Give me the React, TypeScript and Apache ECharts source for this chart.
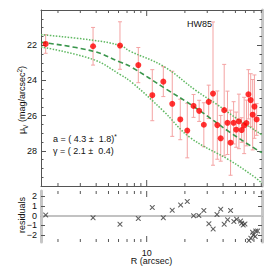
import React, { useEffect, useRef } from "react";
import * as echarts from "echarts";

// Data points (R in arcsec, surface brightness mu_V, error)
const radii = [1.60, 3.78, 6.16, 8.59, 11.07, 13.52, 15.9, 18.39, 20.88, 23.4, 25.9, 28.2, 30.8, 33.3, 36.0, 38.3, 40.8, 43.3, 45.8, 48.4, 50.7, 53.3, 56.0, 58.6, 61.1, 63.3, 66.0, 68.4, 70.6, 73.5];
const mags = [21.93, 22.06, 22.02, 23.13, 24.84, 24.07, 25.33, 26.22, 26.85, 25.45, 25.73, 26.52, 25.22, 24.75, 26.54, 27.29, 25.69, 26.41, 27.54, 26.41, 26.8, 26.33, 26.82, 26.56, 26.42, 24.79, 25.12, 25.95, 25.49, 26.22];
const errs = [0.53, 1.07, 1.35, 1.0, 1.45, 0.85, 1.85, 1.15, 1.55, 0.65, 0.6, 1.25, 0.95, 4.07, 1.94, 1.3, 2.6, 1.8, 1.85, 1.2, 1.0, 1.55, 0.7, 1.6, 1.3, 1.4, 1.5, 2.0, 1.8, 0.9];

// Model fit (dashed) and its bounds (dotted)
const fitR = [1.47, 3.78, 6.16, 7.6, 14.3, 24.8, 45.3, 75.6, 81];
const fitMag = [21.83, 22.34, 22.96, 23.25, 24.5, 25.6, 26.95, 27.99, 28.1];
const upperR = [1.47, 3.78, 6.16, 7.5, 13.5, 24.7, 35.5, 54.3, 75.6, 81];
const upperMag = [21.4, 21.72, 22.02, 22.36, 23.19, 24.6, 25.35, 26.29, 26.95, 27.1];
const lowerR = [1.47, 3.78, 6.16, 7.6, 13.5, 21.9, 45.3, 71.1, 81];
const lowerMag = [22.1, 22.81, 23.66, 24.1, 25.73, 27.24, 28.55, 29.5, 29.85];

// Residuals
const resR = [1.60, 3.78, 6.16, 8.59, 11.07, 13.52, 15.9, 18.5, 20.88, 23.4, 25.75, 28.2, 30.9, 33.4, 35.8, 38.3, 40.8, 43.4, 45.8, 48.6, 51.1, 54.9, 56.0, 57.6, 59.4, 63.9, 66.1, 68.2, 69.1, 71.6, 72.3, 74.8];
const resVal = [0.07, -0.2, -0.88, -0.27, 0.86, -0.2, 0.58, 1.12, 1.47, 0.0, 0.04, 0.55, -0.82, -1.36, 0.14, 0.68, -0.88, -0.41, 0.55, -0.6, -0.37, -0.54, -0.78, -0.95, -0.85, -2.55, -2.31, -1.69, -1.97, -2.14, -1.56, -1.56];

// Axis ticks
const xMinorTicks = [2, 3, 4, 5, 6, 7, 8, 9, 20, 30, 40, 50, 60, 70, 80];
const xMajorTicks = [10];
const resTicks = [-2, -1, 0, 1, 2];

const FONT = "'Liberation Sans', Arial, Helvetica, sans-serif";
const DARK = "#555555";
const LIGHT = "#c6c6c6";

function tickSeries(gridIdx: number, yVal: number) {
  const data = [
    ...xMinorTicks.map((v) => [v, yVal, 3]),
    ...xMajorTicks.map((v) => [v, yVal, 6]),
  ];
  return {
    type: "custom",
    xAxisIndex: gridIdx === 0 ? 0 : 2,
    yAxisIndex: gridIdx === 0 ? 0 : 2,
    silent: true,
    clip: false,
    data,
    renderItem: (params: any, api: any) => {
      const cs = params.coordSys;
      const p = api.coord([api.value(0), api.value(1)]);
      const len = api.value(2);
      const top = cs.y;
      const bot = cs.y + cs.height;
      const st = { stroke: DARK, lineWidth: 1 };
      return {
        type: "group",
        children: [
          { type: "line", shape: { x1: p[0], y1: top, x2: p[0], y2: top + len }, style: st },
          { type: "line", shape: { x1: p[0], y1: bot, x2: p[0], y2: bot - len }, style: st },
        ],
      };
    },
  };
}

export default function App() {
  const ref = useRef<HTMLDivElement>(null);
  useEffect(() => {
    if (!ref.current) return;
    const chart = echarts.init(ref.current, undefined, { renderer: "svg" });
    const xBase = {
      type: "log",
      min: 1.47,
      max: 81,
      axisTick: { show: false },
      splitLine: { show: false },
      minorSplitLine: { show: false },
    };
    const option: any = {
      animation: false,
      backgroundColor: "#ffffff",
      textStyle: { fontFamily: FONT },
      grid: [
        { left: 41, top: 10, width: 221, height: 176 },
        { left: 41, top: 191, width: 221, height: 51 },
      ],
      xAxis: [
        { ...xBase, gridIndex: 0, position: "bottom", axisLine: { lineStyle: { color: DARK, width: 1 } }, axisLabel: { show: false } },
        { ...xBase, gridIndex: 0, position: "top", axisLine: { lineStyle: { color: DARK, width: 1 } }, axisLabel: { show: false } },
        {
          ...xBase,
          gridIndex: 1,
          position: "bottom",
          axisLine: { lineStyle: { color: LIGHT, width: 2 } },
          axisLabel: {
            show: true,
            color: "#111",
            fontSize: 9,
            fontFamily: FONT,
            margin: 6,
            showMinLabel: false,
            showMaxLabel: false,
            formatter: (v: number) => (Math.abs(v - 10) < 1e-6 ? "10" : ""),
          },
        },
        { ...xBase, gridIndex: 1, position: "top", axisLine: { lineStyle: { color: "#999", width: 1 } }, axisLabel: { show: false } },
      ],
      yAxis: [
        {
          type: "value",
          gridIndex: 0,
          position: "left",
          inverse: true,
          min: 20,
          max: 30,
          interval: 2,
          axisLine: { show: true, lineStyle: { color: DARK, width: 1 } },
          axisTick: { show: true, inside: true, length: 5, lineStyle: { color: DARK } },
          minorTick: { show: true, splitNumber: 4, length: 2.5, lineStyle: { color: DARK } },
          splitLine: { show: false },
          minorSplitLine: { show: false },
          axisLabel: {
            color: "#111",
            fontSize: 9,
            fontFamily: FONT,
            margin: 4,
            formatter: (v: number) => (v === 20 || v === 30 ? "" : String(v)),
          },
        },
        {
          type: "value",
          gridIndex: 0,
          position: "right",
          inverse: true,
          min: 20,
          max: 30,
          interval: 2,
          axisLine: { show: true, lineStyle: { color: LIGHT, width: 3 } },
          axisTick: { show: true, inside: true, length: 5, lineStyle: { color: DARK } },
          minorTick: { show: true, splitNumber: 4, length: 2.5, lineStyle: { color: DARK } },
          splitLine: { show: false },
          axisLabel: { show: false },
        },
        {
          type: "value",
          gridIndex: 1,
          position: "left",
          min: -2.7,
          max: 2.55,
          axisLine: { show: true, lineStyle: { color: LIGHT, width: 3 } },
          axisTick: { show: true, inside: true, length: 4, customValues: resTicks, lineStyle: { color: DARK } },
          splitLine: { show: false },
          axisLabel: {
            color: "#111",
            fontSize: 9,
            fontFamily: FONT,
            margin: 4,
            customValues: resTicks,
            formatter: (v: number) => (v < 0 ? "\u2212" + Math.abs(v) : String(v)),
          },
        },
        {
          type: "value",
          gridIndex: 1,
          position: "right",
          min: -2.7,
          max: 2.55,
          axisLine: { show: true, lineStyle: { color: LIGHT, width: 3 } },
          axisTick: { show: true, inside: true, length: 4, customValues: resTicks, lineStyle: { color: DARK } },
          splitLine: { show: false },
          axisLabel: { show: false },
        },
      ],
      series: [
        tickSeries(0, 25),
        tickSeries(1, 0),
        {
          type: "line",
          xAxisIndex: 0,
          yAxisIndex: 0,
          data: upperR.map((r, i) => [r, upperMag[i]]),
          smooth: 0.4,
          showSymbol: false,
          silent: true,
          lineStyle: { color: "#5fb861", width: 1.5, type: [1.5, 1.5] },
        },
        {
          type: "line",
          xAxisIndex: 0,
          yAxisIndex: 0,
          data: lowerR.map((r, i) => [r, lowerMag[i]]),
          smooth: 0.4,
          showSymbol: false,
          silent: true,
          lineStyle: { color: "#5fb861", width: 1.5, type: [1.5, 1.5] },
        },
        {
          type: "line",
          xAxisIndex: 0,
          yAxisIndex: 0,
          data: fitR.map((r, i) => [r, fitMag[i]]),
          smooth: 0.4,
          showSymbol: false,
          silent: true,
          lineStyle: { color: "#3a964c", width: 1.6, type: [5, 3] },
        },
        {
          type: "custom",
          xAxisIndex: 0,
          yAxisIndex: 0,
          clip: true,
          silent: true,
          data: radii.map((r, i) => [r, mags[i], errs[i]]),
          renderItem: (params: any, api: any) => {
            const x = api.value(0);
            const y = api.value(1);
            const e = api.value(2);
            const a = api.coord([x, y - e]);
            const b = api.coord([x, y + e]);
            const st = { stroke: "#f4a3a3", lineWidth: 1 };
            return {
              type: "group",
              children: [
                { type: "line", shape: { x1: a[0], y1: a[1], x2: b[0], y2: b[1] }, style: st },
                { type: "line", shape: { x1: a[0] - 2, y1: a[1], x2: a[0] + 2, y2: a[1] }, style: st },
                { type: "line", shape: { x1: b[0] - 2, y1: b[1], x2: b[0] + 2, y2: b[1] }, style: st },
              ],
            };
          },
        },
        {
          type: "scatter",
          xAxisIndex: 0,
          yAxisIndex: 0,
          data: radii.map((r, i) => [r, mags[i]]),
          symbol: "circle",
          symbolSize: 6,
          itemStyle: { color: "#ff0000" },
          silent: true,
          z: 5,
        },
        {
          type: "scatter",
          xAxisIndex: 2,
          yAxisIndex: 2,
          data: resR.map((r, i) => [r, resVal[i]]),
          symbol:
            "path://M0,0L1.5,0L5,3.5L8.5,0L10,0L10,1.5L6.5,5L10,8.5L10,10L8.5,10L5,6.5L1.5,10L0,10L0,8.5L3.5,5L0,1.5Z",
          symbolSize: 5,
          itemStyle: { color: "#3a3a3a" },
          silent: true,
          z: 5,
          markLine: {
            silent: true,
            symbol: ["none", "none"],
            label: { show: false },
            lineStyle: { color: "#c2c2c2", width: 2, type: "solid" },
            data: [{ yAxis: 0 }],
            z: 1,
          },
        },
      ],
      graphic: [
        {
          type: "text",
          x: 22,
          y: 100,
          rotation: Math.PI / 2,
          style: {
            text: "{m|\u03bc}{s|V}{m| (mag/arcsec}{p|2}{m|)}",
            align: "center",
            verticalAlign: "middle",
            fill: "#111",
            rich: {
              m: { fontSize: 9, fontFamily: FONT, fill: "#111", lineHeight: 13, verticalAlign: "middle" },
              s: { fontSize: 6.5, fontFamily: FONT, fill: "#111", lineHeight: 13, verticalAlign: "bottom" },
              p: { fontSize: 6.5, fontFamily: FONT, fill: "#111", lineHeight: 13, verticalAlign: "top" },
            },
          },
        },
        {
          type: "text",
          x: 22,
          y: 215,
          rotation: Math.PI / 2,
          style: { text: "residuals", align: "center", verticalAlign: "middle", fill: "#111", font: `9px ${FONT}` },
        },
        {
          type: "text",
          x: 151.5,
          y: 261,
          style: { text: "R (arcsec)", align: "center", verticalAlign: "middle", fill: "#111", font: `9px ${FONT}` },
        },
        {
          type: "text",
          x: 212,
          y: 24,
          style: { text: "HW85", align: "right", verticalAlign: "middle", fill: "#111", font: `9px ${FONT}` },
        },
        {
          type: "text",
          x: 53,
          y: 138.5,
          style: {
            text: "{t|a = ( 4.3 \u00b1  1.8)}{u|*}",
            align: "left",
            verticalAlign: "middle",
            fill: "#111",
            rich: {
              t: { fontSize: 9, fontFamily: FONT, fill: "#111", lineHeight: 12, verticalAlign: "middle" },
              u: { fontSize: 6.5, fontFamily: FONT, fill: "#111", lineHeight: 12, verticalAlign: "top" },
            },
          },
        },
        {
          type: "text",
          x: 53,
          y: 151,
          style: { text: "\u03b3 = ( 2.1 \u00b1  0.4)", align: "left", verticalAlign: "middle", fill: "#111", font: `9px ${FONT}` },
        },
      ],
    };
    chart.setOption(option);
    return () => chart.dispose();
  }, []);
  return (
    <div
      ref={ref}
      style={{ position: "fixed", left: 0, top: 0, width: 270, height: 270, background: "#fff" }}
    />
  );
}
